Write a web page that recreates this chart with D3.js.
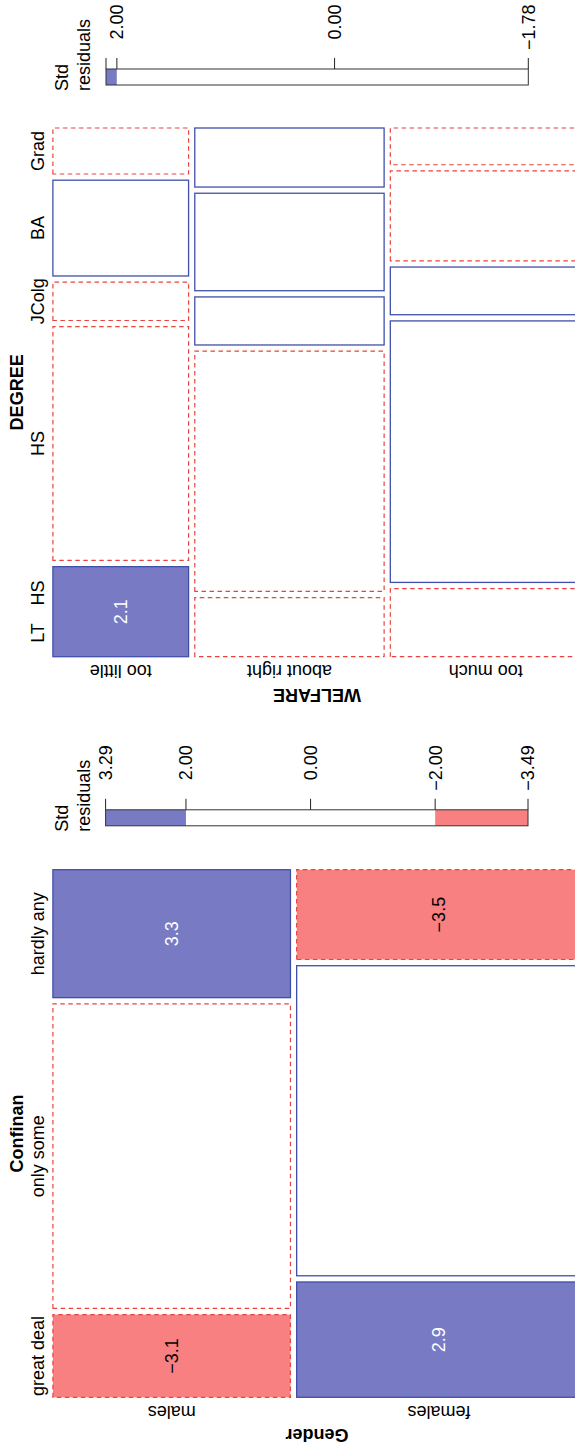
<!DOCTYPE html>
<html><head><meta charset="utf-8">
<script src="https://cdn.jsdelivr.net/npm/d3@7"></script>
<style>
html,body{margin:0;padding:0;background:#fff;overflow:hidden}
text{font-family:"Liberation Sans",Arial,Helvetica,sans-serif;fill:#000}
</style>
</head><body><div id="chart"></div>
<script>
// ---------- DATA ----------
// Panel 1: WELFARE (rows) x DEGREE (columns)
const welfare = ["too little", "about right", "too much"];
const degree = ["LT HS", "HS", "JColg", "BA", "Grad"];
const welfareDegreeCounts = [
  [47, 122, 20, 50, 24],
  [43, 175, 35, 71, 43],
  [50, 192, 35, 66, 27]
];
const welfareDegreeResiduals = [
  [2.10, -0.60, -0.55, 0.45, -0.25],
  [-1.20, -0.30, 0.40, 0.35, 1.10],
  [-0.40, 0.55, 0.15, -0.70, -1.78]
];
const legend1Ticks = [2.10, 2.00, 0.00, -1.78];
const legend1Labels = ["", "2.00", "0.00", "\u22121.78"];

// Panel 2: Gender (rows) x Confinan (columns)
const gender = ["males", "females"];
const confinan = ["great deal", "only some", "hardly any"];
const genderConfinanCounts = [
  [73, 269, 113],
  [122, 328, 95]
];
const genderConfinanResiduals = [
  [-3.10, -0.55, 3.29],
  [2.90, 0.50, -3.49]
];
const legend2Ticks = [3.29, 2.00, 0.00, -2.00, -3.49];
const legend2Labels = ["3.29", "2.00", "0.00", "\u22122.00", "\u22123.49"];

// ---------- STYLE ----------
const BLUE_FILL = "#787BC4", BLUE_LINE = "#4050A8";
const RED_FILL = "#F88080", RED_LINE = "#E8433F";
const FS = 18, GAP = 6.2;

const svg = d3.select("#chart").append("svg")
  .attr("width", 575).attr("height", 1447);
// draw in the original (landscape) frame, rotated 90deg counter-clockwise
const root = svg.append("g").attr("transform", "translate(0,1447) rotate(-90)");

function mosaic(g, spec) {
  const {rows, cols, counts, resid, x0, w, y0, h, rowName, colName} = spec;
  const rowTot = counts.map(r => d3.sum(r));
  const total = d3.sum(rowTot);
  const yS = d3.scaleLinear().domain([0, total]).range([0, h - GAP * (rows.length - 1)]);
  const cells = [];
  let cumR = 0;
  rows.forEach((rn, i) => {
    const ry = y0 + yS(cumR) + GAP * i;
    const rh = yS(rowTot[i]);
    const xS = d3.scaleLinear().domain([0, rowTot[i]]).range([0, w - GAP * (cols.length - 1)]);
    let cumC = 0;
    cols.forEach((cn, j) => {
      cells.push({i, j, x: x0 + xS(cumC) + GAP * j, y: ry, w: xS(counts[i][j]), h: rh, r: resid[i][j]});
      cumC += counts[i][j];
    });
    cumR += rowTot[i];
  });
  g.selectAll("rect.cell").data(cells).join("rect").attr("class", "cell")
    .attr("x", d => d.x).attr("y", d => d.y).attr("width", d => d.w).attr("height", d => d.h)
    .attr("fill", d => d.r > 2 ? BLUE_FILL : d.r < -2 ? RED_FILL : "#fff")
    .attr("stroke", d => d.r >= 0 ? BLUE_LINE : RED_LINE)
    .attr("stroke-width", d => d.r >= 0 ? 1.3 : 1.2)
    .attr("stroke-dasharray", d => d.r >= 0 ? null : "4.5,3.5");
  const fmt = d3.format(".1f");
  g.selectAll("text.val").data(cells.filter(d => Math.abs(d.r) > 2)).join("text").attr("class", "val")
    .attr("x", d => d.x + d.w / 2).attr("y", d => d.y + d.h / 2).attr("dy", "0.36em")
    .attr("text-anchor", "middle").attr("font-size", FS)
    .style("fill", d => d.r > 0 ? "#fff" : "#000")
    .text(d => fmt(d.r));
  // column labels (top of original frame), centred on first row cells
  g.selectAll("text.col").data(cells.filter(d => d.i === 0)).join("text").attr("class", "col")
    .attr("x", d => d.x + d.w / 2).attr("y", y0 - 9.4).attr("text-anchor", "middle")
    .attr("font-size", FS)
    .style("word-spacing", d => cols[d.j] === "LT HS" ? "13px" : null)
    .text(d => cols[d.j]);
  g.append("text").attr("x", x0 + w / 2).attr("y", y0 - 30.4).attr("text-anchor", "middle")
    .attr("font-size", FS).attr("font-weight", "bold").text(colName);
  // row labels (left of original frame), rotated
  const rowCells = cells.filter(d => d.j === 0);
  g.selectAll("text.row").data(rowCells).join("text").attr("class", "row")
    .attr("transform", d => `translate(${x0 - 8.3},${d.y + d.h / 2}) rotate(-90)`)
    .attr("text-anchor", "middle").attr("font-size", FS)
    .text(d => rows[d.i]);
  g.append("text").attr("transform", `translate(${x0 - 32},${y0 + h / 2}) rotate(-90)`)
    .attr("text-anchor", "middle").attr("font-size", FS).attr("font-weight", "bold").text(rowName);
}

function legend(g, spec) {
  const {resid, ticks, labels, bx, y0, y1} = spec;
  const all = resid.flat();
  const mx = d3.max(all), mn = d3.min(all);
  const s = d3.scaleLinear().domain([mx, mn]).range([y0, y1]);
  const bw = 16;
  const bands = [
    {a: mx, b: Math.max(2, mn), c: BLUE_FILL, show: mx > 2},
    {a: Math.min(2, mx), b: Math.max(-2, mn), c: "#fff", show: true},
    {a: Math.min(-2, mx), b: mn, c: RED_FILL, show: mn < -2}
  ].filter(d => d.show);
  g.selectAll("rect.band").data(bands).join("rect").attr("class", "band")
    .attr("x", bx).attr("width", bw).attr("y", d => s(d.a)).attr("height", d => s(d.b) - s(d.a))
    .attr("fill", d => d.c);
  g.append("rect").attr("x", bx).attr("width", bw).attr("y", y0).attr("height", y1 - y0)
    .attr("fill", "none").attr("stroke", "#333").attr("stroke-width", 1);
  g.selectAll("line.tk").data(ticks).join("line").attr("class", "tk")
    .attr("x1", bx + bw).attr("x2", bx + bw + 11).attr("y1", d => s(d)).attr("y2", d => s(d))
    .attr("stroke", "#222").attr("stroke-width", 1);
  g.selectAll("text.tl").data(ticks).join("text").attr("class", "tl")
    .attr("x", bx + bw + 64.5).attr("y", d => s(d)).attr("dy", "0.36em")
    .attr("text-anchor", "end").attr("font-size", FS)
    .text((d, i) => labels[i]);
  const t = g.append("text").attr("font-size", FS);
  t.append("tspan").attr("x", bx - 6).attr("y", 67.5).text("Std");
  t.append("tspan").attr("x", bx - 6).attr("y", 89.5).text("residuals");
}

const p1 = root.append("g");
mosaic(p1, {rows: welfare, cols: degree, counts: welfareDegreeCounts, resid: welfareDegreeResiduals,
  x0: 790.3, w: 528.7, y0: 52.9, h: 528.3, rowName: "WELFARE", colName: "DEGREE"});
legend(root.append("g"), {resid: welfareDegreeResiduals, ticks: legend1Ticks, labels: legend1Labels,
  bx: 1362, y0: 106, y1: 528.3});

const p2 = root.append("g");
mosaic(p2, {rows: gender, cols: confinan, counts: genderConfinanCounts, resid: genderConfinanResiduals,
  x0: 49.7, w: 527.6, y0: 52.9, h: 528.3, rowName: "Gender", colName: "Confinan"});
legend(root.append("g"), {resid: genderConfinanResiduals, ticks: legend2Ticks, labels: legend2Labels,
  bx: 621.2, y0: 105.6, y1: 528});
</script>
</body></html>
